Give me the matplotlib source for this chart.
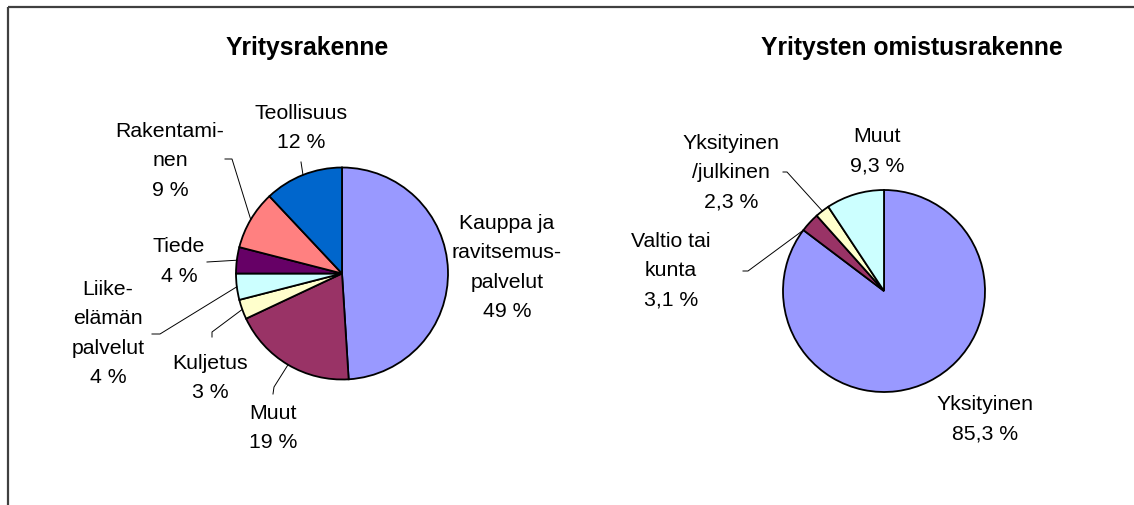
import numpy as np
from matplotlib import pyplot as plt

# Data
titles = ['Yritysrakenne', 'Yritysten omistusrakenne']

left_labels = ['Kauppa ja\nravitsemus-\npalvelut', 'Muut', 'Kuljetus',
               'Liike-\nelämän\npalvelut', 'Tiede', 'Rakentami-\nnen', 'Teollisuus']
left_values = [49, 19, 3, 4, 4, 9, 12]
left_pct = ['49 %', '19 %', '3 %', '4 %', '4 %', '9 %', '12 %']
left_colors = ['#9999FF', '#993366', '#FFFFCC', '#CCFFFF', '#660066', '#FF8080', '#0066CC']

right_labels = ['Yksityinen', 'Valtio tai\nkunta', 'Yksityinen\n/julkinen', 'Muut']
right_values = [85.3, 3.1, 2.3, 9.3]
right_pct = ['85,3 %', '3,1 %', '2,3 %', '9,3 %']
right_colors = ['#9999FF', '#993366', '#FFFFCC', '#CCFFFF']

W, H = 1134, 506

# layout in pixels (y from top)
left_center, left_radius = (342, 274.5), 106
right_center, right_radius = (884, 292), 101
left_label_pos = [(507, 267.5), (273, 428), (210, 378), (108, 333.5), (179, 261.5), (170, 161), (301, 128)]
right_label_pos = [(985, 419), (671, 271), (731, 172.5), (877, 151)]
# elbow points of leader lines, and where along the wedge the line ends
left_elbows = [None, [(273, 395), (274, 388)], [(212, 338), (212, 333)], [(152, 335), (160, 335)],
               [(207, 263)], [(225, 160), (232, 160)], [(301, 163)]]
left_frac = [0.5] * 7
right_elbows = [None, [(743, 272), (748, 272)], [(783, 173), (787, 173)], None]
right_frac = [0.5, 0.0, 0.5, 0.5]

plt.rcParams['font.family'] = ['Liberation Sans', 'DejaVu Sans']

fig = plt.figure(figsize=(W / 100, H / 100), dpi=100)
ax = fig.add_axes([0, 0, 1, 1])


def Y(py):
    return H - py


# frame (only top and left edges visible)
ax.plot([8, W], [Y(8), Y(8)], color='#404040', lw=1.6, solid_capstyle='butt')
ax.plot([8, 8], [Y(8), 0], color='#404040', lw=1.6, solid_capstyle='butt')


def draw_pie(values, colors, labels, pcts, center, radius, label_pos, elbows, fracs):
    cx, cy = center
    ax.pie(values, colors=colors, startangle=90, counterclock=False,
           center=(cx, Y(cy)), radius=radius, frame=True,
           wedgeprops=dict(edgecolor='black', linewidth=1.3))
    total = float(sum(values))
    cum = 0.0
    for v, lab, pct, pos, elb, fr in zip(values, labels, pcts, label_pos, elbows, fracs):
        ang = np.deg2rad(360.0 * (cum + fr * v) / total)
        cum += v
        ax.text(pos[0], Y(pos[1]), lab + '\n' + pct, ha='center', va='center',
                multialignment='center', fontsize=15.3, linespacing=1.68, color='black')
        if elb is not None:
            tx = cx + radius * np.sin(ang)
            ty = cy - radius * np.cos(ang)
            xs = [p[0] for p in elb] + [tx]
            ys = [Y(p[1]) for p in elb] + [Y(ty)]
            ax.plot(xs, ys, color='black', lw=0.7)


draw_pie(left_values, left_colors, left_labels, left_pct, left_center, left_radius,
         left_label_pos, left_elbows, left_frac)
draw_pie(right_values, right_colors, right_labels, right_pct, right_center, right_radius,
         right_label_pos, right_elbows, right_frac)

ax.set_xlim(0, W)
ax.set_ylim(0, H)
ax.axis('off')

ax.text(307, Y(48), titles[0], ha='center', va='center', fontsize=17.8, fontweight='bold')
ax.text(912, Y(48), titles[1], ha='center', va='center', fontsize=17.8, fontweight='bold')

fig.savefig('out.png', dpi=100)
